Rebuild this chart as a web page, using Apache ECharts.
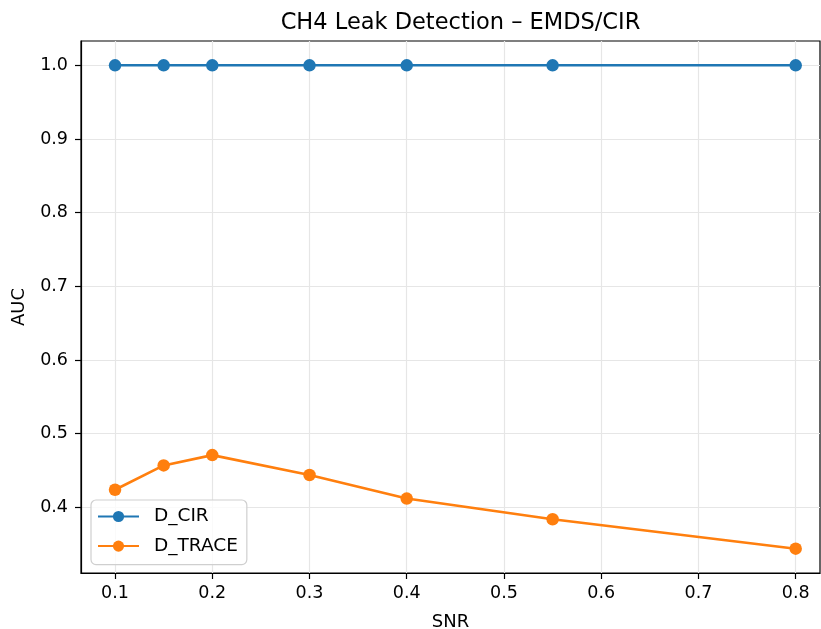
<!DOCTYPE html>
<html>
<head>
<meta charset="utf-8">
<script src="https://cdn.jsdelivr.net/npm/echarts@6/dist/echarts.min.js"></script>
<style>
html, body { margin: 0; padding: 0; background: #fff; }
#main { width: 821px; height: 629px; }
</style>
</head>
<body>
<div id="main"></div>
<script>
// SNR values on x axis
var snr = [0.1, 0.15, 0.2, 0.3, 0.4, 0.55, 0.8];
// AUC per detector
var dCir = [1.0, 1.0, 1.0, 1.0, 1.0, 1.0, 1.0];
var dTrace = [0.424, 0.457, 0.471, 0.444, 0.412, 0.384, 0.344];
// tick labels
var xTicks = [0.1, 0.2, 0.3, 0.4, 0.5, 0.6, 0.7, 0.8];
var yTicks = [0.4, 0.5, 0.6, 0.7, 0.8, 0.9, 1.0];

function pairs(xs, ys) {
    var out = [];
    for (var i = 0; i < xs.length; i++) {
        out.push([xs[i], ys[i]]);
    }
    return out;
}

var font = 'DejaVu Sans';
var myChart = echarts.init(document.getElementById('main'));
var option = {
    backgroundColor: '#fff',
    animation: false,
    textStyle: { fontFamily: font },
    title: {
        text: 'CH4 Leak Detection \u2013 EMDS/CIR',
        left: 455.5, top: 7, textAlign: 'center',
        textStyle: { fontFamily: font, fontSize: 22.5, fontWeight: 'normal', color: '#000' }
    },
    grid: {
        left: 81, right: 1, top: 41, bottom: 56,
        outerBoundsMode: 'none',
        show: true, borderColor: '#000', borderWidth: 1.2, backgroundColor: 'transparent'
    },
    legend: {
        left: 91, top: 500,
        orient: 'vertical',
        itemWidth: 41, itemHeight: 14, itemGap: 10.6,
        padding: [7, 9, 9, 6],
        borderColor: '#cfcfcf', borderWidth: 1.2, borderRadius: 5,
        backgroundColor: 'rgba(255,255,255,0.8)',
        textStyle: { fontFamily: font, fontSize: 18.5, lineHeight: 18, color: '#000', padding: [0, 0, 0, 10] },
        data: ['D_CIR', 'D_TRACE']
    },
    xAxis: {
        type: 'value',
        min: 0.065, max: 0.825,
        name: 'SNR', nameLocation: 'middle', nameGap: 40,
        nameTextStyle: { fontFamily: font, fontSize: 18, color: '#000' },
        axisLine: { show: true, onZero: false, lineStyle: { color: '#000', width: 1.2 } },
        axisTick: { show: true, length: 6, customValues: xTicks, lineStyle: { color: '#000', width: 1.2 } },
        axisLabel: {
            customValues: xTicks, fontFamily: font, fontSize: 17.5, color: '#000', margin: 11,
            formatter: function (v) { return v.toFixed(1); }
        },
        splitLine: { show: true, lineStyle: { color: '#e6e6e6', width: 1.2 } }
    },
    yAxis: {
        type: 'value',
        min: 0.311, max: 1.033,
        name: 'AUC', nameLocation: 'middle', nameGap: 53, nameRotate: 90,
        nameTextStyle: { fontFamily: font, fontSize: 18, color: '#000' },
        axisLine: { show: true, onZero: false, lineStyle: { color: '#000', width: 1.2 } },
        axisTick: { show: true, length: 6, customValues: yTicks, lineStyle: { color: '#000', width: 1.2 } },
        axisLabel: {
            customValues: yTicks, fontFamily: font, fontSize: 17.5, color: '#000', margin: 13,
            formatter: function (v) { return v.toFixed(1); }
        },
        splitLine: { show: true, lineStyle: { color: '#e6e6e6', width: 1.2 } }
    },
    series: [
        {
            name: 'D_CIR',
            type: 'line',
            data: pairs(snr, dCir),
            symbol: 'circle', symbolSize: 12.5,
            itemStyle: { color: '#1f77b4' },
            lineStyle: { color: '#1f77b4', width: 2.6 }
        },
        {
            name: 'D_TRACE',
            type: 'line',
            data: pairs(snr, dTrace),
            symbol: 'circle', symbolSize: 12.5,
            itemStyle: { color: '#ff7f0e' },
            lineStyle: { color: '#ff7f0e', width: 2.6 }
        }
    ]
};
myChart.setOption(option);
</script>
</body>
</html>
